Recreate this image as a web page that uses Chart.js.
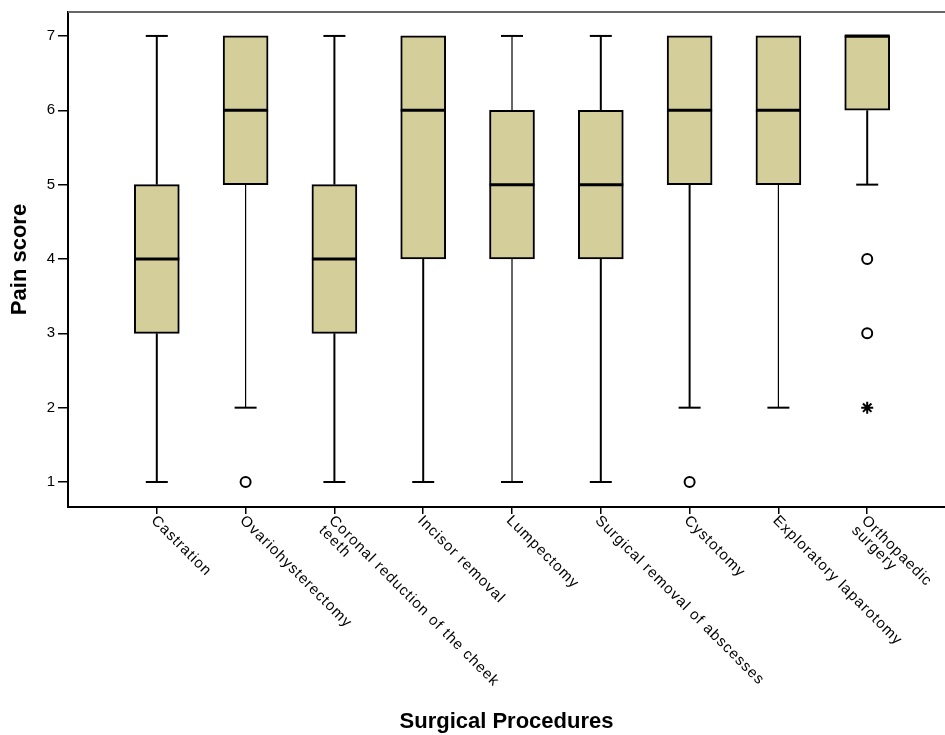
<!DOCTYPE html>
<html lang="en">
<head>
<meta charset="UTF-8">
<title>Pain score by surgical procedure</title>
<script src="https://cdn.jsdelivr.net/npm/chart.js"></script>
<style>
    * { margin: 0; padding: 0; box-sizing: border-box; }
    body { background: #fff; width: 945px; height: 735px; overflow: hidden; }
    .wrap { position: relative; width: 945px; height: 735px; }
</style>
</head>
<body>
<div class="wrap"><canvas id="box" width="945" height="735"></canvas></div>
<script>
// procedures (x positions 1..9), label lines for the rotated tick labels
const procedures = [
    ["Castration"],
    ["Ovariohysterectomy"],
    ["Coronal reduction of the cheek", "teeth"],
    ["Incisor removal"],
    ["Lumpectomy"],
    ["Surgical removal of abscesses"],
    ["Cystotomy"],
    ["Exploratory laparotomy"],
    ["Orthopaedic", "surgery"]
];
const whiskerLow  = [1, 2, 1, 1, 1, 1, 2, 2, 5];
const q1          = [3, 5, 3, 4, 4, 4, 5, 5, 6];
const median      = [4, 6, 4, 6, 5, 5, 6, 6, 7];
const q3          = [5, 7, 5, 7, 6, 6, 7, 7, 7];
const whiskerHigh = [7, 7, 7, 7, 7, 7, 7, 7, 7];

// outliers: procedure index (1-based) and value
const outlierX = [2, 7, 9, 9];
const outlierY = [1, 1, 4, 3];
const extremeX = [9];
const extremeY = [2];

const yTicks = [1, 2, 3, 4, 5, 6, 7];

const boxFill = '#D3CE9A';

const boxData = procedures.map((p, i) => ({ x: i + 1, y: [q1[i], q3[i]] }));
const outlierData = outlierX.map((x, i) => ({ x: x, y: outlierY[i] }));
const extremeData = extremeX.map((x, i) => ({ x: x, y: extremeY[i] }));

// whiskers + caps behind boxes, medians on top
const boxPlotPlugin = {
    id: 'boxPlot',
    beforeDatasetsDraw(chart, args, opts) {
        const ctx = chart.ctx;
        const xs = chart.scales.x, ys = chart.scales.y;
        ctx.save();
        ctx.strokeStyle = '#000';
        procedures.forEach((p, i) => {
            const cx = xs.getPixelForValue(i + 1);
            ctx.lineWidth = opts.whiskerWidths[i];
            const segs = [[whiskerLow[i], q1[i]], [q3[i], whiskerHigh[i]]];
            segs.forEach(([a, b]) => {
                if (a === b) return;
                ctx.beginPath();
                ctx.moveTo(cx, ys.getPixelForValue(a));
                ctx.lineTo(cx, ys.getPixelForValue(b));
                ctx.stroke();
            });
            ctx.lineWidth = 2;
            [whiskerLow[i], whiskerHigh[i]].forEach((v, k) => {
                if (v === (k === 0 ? q1[i] : q3[i])) return;
                const py = ys.getPixelForValue(v);
                ctx.beginPath();
                ctx.moveTo(cx - opts.capHalf, py);
                ctx.lineTo(cx + opts.capHalf, py);
                ctx.stroke();
            });
        });
        ctx.restore();
    },
    afterDatasetsDraw(chart, args, opts) {
        const ctx = chart.ctx;
        const ys = chart.scales.y;
        const meta = chart.getDatasetMeta(0);
        ctx.save();
        ctx.strokeStyle = '#000';
        ctx.lineWidth = 3;
        meta.data.forEach((bar, i) => {
            const half = bar.width / 2;
            const py = ys.getPixelForValue(median[i]);
            ctx.beginPath();
            ctx.moveTo(bar.x - half, py);
            ctx.lineTo(bar.x + half, py);
            ctx.stroke();
        });
        ctx.restore();
    },
    afterDraw(chart) {
        const ctx = chart.ctx;
        const xs = chart.scales.x;
        const area = chart.chartArea;
        ctx.save();
        // top frame line
        ctx.strokeStyle = '#666';
        ctx.lineWidth = 2;
        ctx.beginPath();
        ctx.moveTo(area.left, area.top);
        ctx.lineTo(area.right, area.top);
        ctx.stroke();
        // rotated category labels, reading down-right from each tick
        ctx.fillStyle = '#000';
        ctx.font = '15px "Liberation Sans", Arial, sans-serif';
        ctx.letterSpacing = '1px';
        ctx.textAlign = 'left';
        ctx.textBaseline = 'top';
        procedures.forEach((lines, i) => {
            const px = xs.getPixelForValue(i + 1);
            ctx.save();
            ctx.translate(px + 2, area.bottom + 6);
            ctx.rotate(Math.PI / 4);
            lines.forEach((t, k) => ctx.fillText(t, 0, k * 14));
            ctx.restore();
        });
        ctx.restore();
    }
};

new Chart(document.getElementById('box'), {
    type: 'bar',
    data: {
        datasets: [
            {
                data: boxData,
                backgroundColor: boxFill,
                borderColor: '#000',
                borderWidth: 2,
                borderSkipped: false,
                barThickness: 45
            },
            {
                type: 'scatter',
                data: outlierData,
                pointStyle: 'circle',
                pointRadius: 5,
                pointBorderWidth: 2,
                pointBackgroundColor: '#fff',
                pointBorderColor: '#000'
            },
            {
                type: 'scatter',
                data: extremeData,
                pointStyle: 'star',
                pointRadius: 6,
                pointBorderWidth: 2,
                pointBackgroundColor: '#000',
                pointBorderColor: '#000'
            }
        ]
    },
    options: {
        responsive: false,
        animation: false,
        layout: { autoPadding: false, padding: { top: 11, left: 0, right: 0, bottom: 0 } },
        plugins: {
            legend: { display: false },
            tooltip: { enabled: false },
            boxPlot: {
                whiskerWidths: [2, 1.2, 2, 2, 1.2, 2, 2, 1.2, 2],
                capHalf: 11
            }
        },
        scales: {
            x: {
                type: 'linear',
                min: 0,
                max: 9.876,
                offset: false,
                afterBuildTicks: s => { s.ticks = procedures.map((p, i) => ({ value: i + 1 })); },
                afterFit: s => { s.height = 228; },
                border: { display: true, color: '#000', width: 2 },
                grid: { offset: false, drawOnChartArea: false, drawTicks: true, tickLength: 7, color: '#000', lineWidth: 1.5 },
                ticks: { display: false },
                title: {
                    display: true,
                    text: 'Surgical Procedures',
                    color: '#000',
                    font: { family: '"Liberation Sans", Arial, sans-serif', size: 22, weight: 'bold' },
                    padding: { top: 0, bottom: 0 }
                }
            },
            y: {
                min: 0.664,
                max: 7.322,
                afterBuildTicks: s => { s.ticks = yTicks.map(v => ({ value: v })); },
                afterFit: s => { s.width = 68; },
                border: { display: true, color: '#000', width: 2 },
                grid: { drawOnChartArea: false, drawTicks: true, tickLength: 10, color: '#000', lineWidth: 1.5 },
                ticks: {
                    color: '#000',
                    padding: 3,
                    font: { family: '"Liberation Sans", Arial, sans-serif', size: 15 }
                },
                title: {
                    display: true,
                    text: 'Pain score',
                    color: '#000',
                    font: { family: '"Liberation Sans", Arial, sans-serif', size: 22, weight: 'bold' },
                    padding: { top: 7, bottom: 0 }
                }
            }
        }
    },
    plugins: [boxPlotPlugin]
});
</script>
</body>
</html>
